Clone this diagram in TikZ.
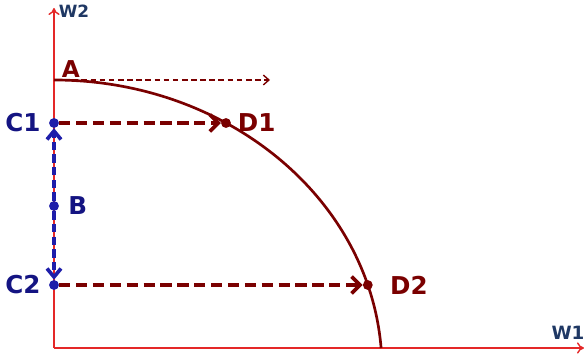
\documentclass[tikz,border=0pt]{standalone}
\usepackage{fontspec}
\setmainfont{DejaVu Sans}
\usetikzlibrary{arrows.meta,positioning}
\definecolor{darkred}{RGB}{122,0,0}
\definecolor{navy}{RGB}{20,20,130}
\definecolor{lineblue}{RGB}{30,30,170}
\definecolor{axisred}{RGB}{228,40,40}
\definecolor{axislbl}{RGB}{31,56,100}

\begin{document}
\begin{tikzpicture}[
  axis/.style={-{To[length=5pt,width=8pt]},color=axisred,line width=1pt},
  axlbl/.style={font=\fontsize{12}{14}\selectfont\bfseries,color=axislbl,inner sep=0pt},
  rdot/.style={circle,fill=darkred,inner sep=0pt,minimum size=7pt},
  bdot/.style={circle,fill=lineblue,inner sep=0pt,minimum size=7pt},
  rlbl/.style={font=\fontsize{17.5}{20}\selectfont\bfseries,color=darkred,inner sep=0pt},
  blbl/.style={font=\fontsize{17.5}{20}\selectfont\bfseries,color=navy,inner sep=0pt},
  hmove/.style={-{Straight Barb[length=6pt,width=12pt]},dash pattern=on 8pt off 4pt,
                line width=2.6pt,color=darkred},
  vmove/.style={-{Straight Barb[length=6pt,width=10pt]},dash pattern=on 6pt off 3pt,
                line width=2.6pt,color=lineblue},
  guide/.style={-{Straight Barb[length=4pt,width=7pt]},dash pattern=on 4pt off 2.5pt,
                line width=1pt,color=darkred},
  front/.style={line width=1.9pt,color=darkred}
]
  \useasboundingbox (-1.35,-0.25) rectangle (13.25,8.7);
  % axes
  \coordinate (O) at (0,0);
  \coordinate (ytop) at (0,8.5);
  \coordinate (xend) at (13.25,0);
  \draw[axis] (O) -- (ytop);
  \draw[axis] (O) -- (xend);
  \node[axlbl] (w2) at (0.5,8.41) {W2};
  \node[axlbl,font=\fontsize{13}{15}\selectfont\bfseries] (w1) at (12.85,0.37) {W1};
  % frontier
  \coordinate (A) at (0,6.7);
  \coordinate (aend) at (5.4,6.7);
  \draw[front] (A) arc[start angle=90,end angle=4.2,x radius=8.2cm,y radius=7.23cm];
  \node[rlbl,font=\fontsize{16.5}{18}\selectfont\bfseries] (alab) at (0.42,6.98) {A};
  \draw[guide] (A) -- (aend);
  % points
  \node[bdot] (c1) at (0,5.625) {};
  \node[bdot] (b) at (0,3.55) {};
  \node[bdot] (c2) at (0,1.575) {};
  \node[rdot] (d1) at (4.3,5.625) {};
  \node[rdot] (d2) at (7.845,1.575) {};
  \node[blbl,left=0.2cm of c1] (c1lab) {C1};
  \node[blbl,left=0.2cm of c2] (c2lab) {C2};
  \node[blbl,right=0.22cm of b] (blab) {B};
  \node[rlbl,right=0.16cm of d1] (d1lab) {D1};
  \node[rlbl,right=0.42cm of d2] (d2lab) {D2};
  % moves
  \draw[vmove] (b) -- (c1);
  \draw[vmove] (b) -- (c2);
  \draw[hmove] (c1) -- (d1);
  \draw[hmove] (c2) -- (d2);
\end{tikzpicture}
\end{document}
